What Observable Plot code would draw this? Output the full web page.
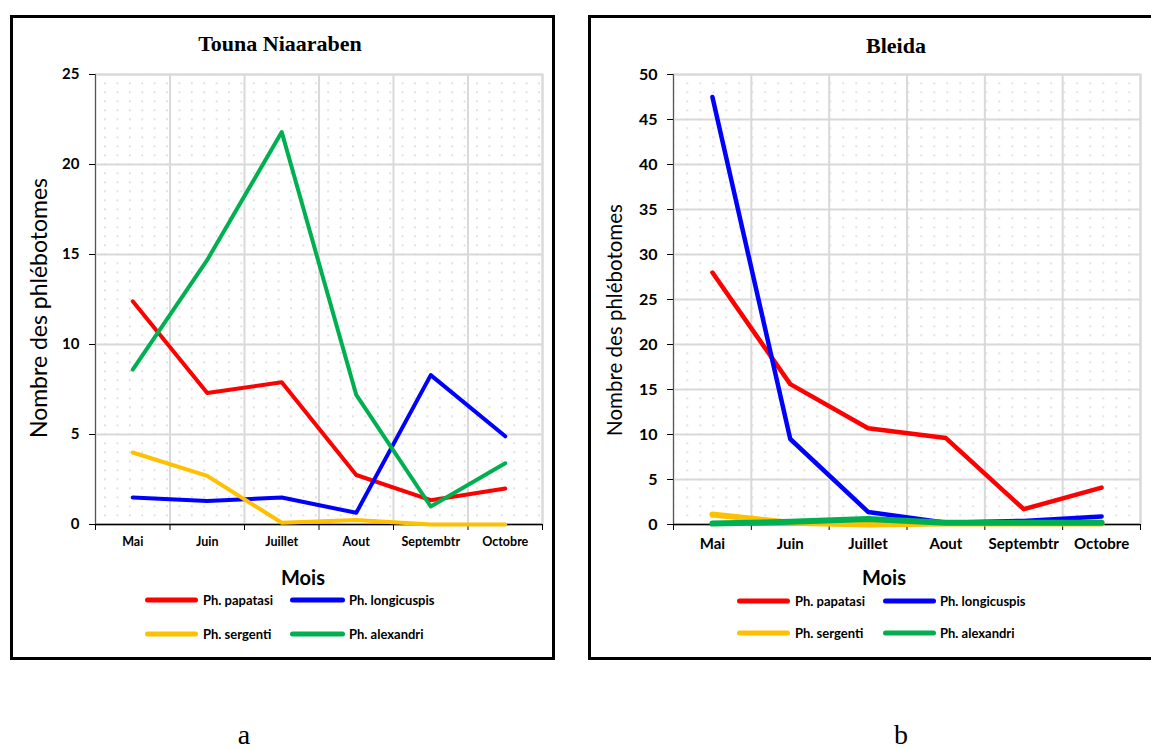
<!DOCTYPE html>
<html><head><meta charset="utf-8">
<script src="https://cdn.jsdelivr.net/npm/d3@7"></script>
<script src="https://cdn.jsdelivr.net/npm/@observablehq/plot@0.6"></script>
<style>
body{margin:0;width:1151px;height:749px;overflow:hidden;background:#fff;position:relative;font-family:Lato,"Open Sans",sans-serif;color:#000}
.abs{position:absolute;white-space:nowrap;line-height:1}
.panel{position:absolute;border:3px solid #000;box-sizing:border-box}
.title{font-family:"Liberation Serif","DejaVu Serif",serif;font-weight:bold;transform:translate(-50%,-50%)}
.ylab{transform:translate(-50%,-50%) rotate(-90deg)}
.mois{font-weight:bold;transform:translate(-50%,-50%)}
.sw{position:absolute;height:5px;border-radius:3px;transform:translateY(-50%)}
.lt{font-weight:bold;transform:translateY(-50%)}
.cap{font-family:"Liberation Serif",serif;font-size:28px;line-height:22px;height:22px;transform:translateX(-50%)}
svg{position:absolute}
</style></head><body>
<script>
const months = ["Mai","Juin","Juillet","Aout","Septembtr","Octobre"];
const seriesNames = ["Ph. papatasi","Ph. longicuspis","Ph. sergenti","Ph. alexandri"];
const seriesColors = ["#ff0000","#0000ff","#ffc000","#00b050"];

// Panel a : Touna Niaaraben
const tounaPapatasi    = [12.4, 7.3, 7.9, 2.75, 1.35, 2.0];
const tounaLongicuspis = [1.5, 1.3, 1.5, 0.65, 8.3, 4.9];
const tounaSergenti    = [4.0, 2.7, 0.1, 0.25, 0.0, 0.0];
const tounaAlexandri   = [8.6, 14.7, 21.8, 7.2, 1.0, 3.4];
const tounaTicks = [0, 5, 10, 15, 20, 25];

// Panel b : Bleida
const bleidaPapatasi    = [28.0, 15.6, 10.7, 9.6, 1.7, 4.1];
const bleidaLongicuspis = [47.5, 9.5, 1.4, 0.2, 0.4, 0.9];
const bleidaSergenti    = [1.1, 0.2, 0.0, 0.1, 0.1, 0.1];
const bleidaAlexandri   = [0.1, 0.3, 0.6, 0.2, 0.2, 0.2];
const bleidaTicks = [0, 5, 10, 15, 20, 25, 30, 35, 40, 45, 50];

function add(text, cls, style){
  const d = document.createElement("div");
  d.className = cls; d.textContent = text || "";
  Object.assign(d.style, style);
  document.body.appendChild(d);
  return d;
}

function panel(cfg){
  add("", "panel", {left: cfg.box[0]+"px", top: cfg.box[1]+"px", width: cfg.box[2]+"px", height: cfg.box[3]+"px"});
  add(cfg.title, "abs title", {left: cfg.titlePos[0]+"px", top: cfg.titlePos[1]+"px", fontSize: "22px"});
  const bounds = d3.range(months.length + 1).map(i => i - 0.5);
  const lines = cfg.values.map((vals, s) =>
    Plot.line(vals.map((v, i) => ({i, v})), {x: "i", y: "v", stroke: seriesColors[s], strokeWidth: cfg.widths[s], strokeLinejoin: "round", strokeLinecap: "round"}));
  const plot = Plot.plot({
    width: cfg.svg[2], height: cfg.svg[3],
    marginLeft: cfg.m[0], marginRight: cfg.m[1], marginTop: cfg.m[2], marginBottom: cfg.m[3],
    style: {fontFamily: "Lato, 'Open Sans', sans-serif", color: "#000", background: "transparent", overflow: "visible"},
    x: {domain: [-0.5, months.length - 0.5]},
    y: {domain: [0, cfg.ticks[cfg.ticks.length - 1]]},
    marks: [
      Plot.frame({fill: "url(#dots" + cfg.id + ")", stroke: "#d9d9d9", strokeWidth: 2}),
      Plot.gridY({ticks: cfg.ticks, stroke: "#d9d9d9", strokeOpacity: 1, strokeWidth: 2}),
      Plot.gridX({ticks: bounds, stroke: "#d9d9d9", strokeOpacity: 1, strokeWidth: 2}),
      Plot.ruleY([0], {stroke: "#000", strokeWidth: 1.5}),
      Plot.ruleX([-0.5], {stroke: "#555", strokeWidth: 1}),
      Plot.axisY({ticks: cfg.ticks, tickSize: 6, tickPadding: cfg.yPad, stroke: "#000", fontWeight: "bold", fontSize: cfg.yFont, label: null}),
      Plot.axisX({ticks: bounds, tickSize: 6, tickFormat: () => "", stroke: "#000", label: null}),
      Plot.axisX({ticks: d3.range(months.length), tickSize: 0, tickPadding: cfg.xPad, tickFormat: i => months[i], fontWeight: "bold", fontSize: cfg.xFont, label: null}),
      ...lines
    ]
  });
  const defs = d3.select(plot).insert("defs", ":first-child");
  const pat = defs.append("pattern").attr("id", "dots" + cfg.id).attr("patternUnits", "userSpaceOnUse")
    .attr("width", cfg.dot[0]).attr("height", cfg.dot[1]);
  pat.append("rect").attr("x", 4).attr("y", 4).attr("width", 1.4).attr("height", 1.4).attr("fill", "#c4c4c4");
  plot.style.left = cfg.svg[0] + "px";
  plot.style.top = cfg.svg[1] + "px";
  document.body.appendChild(plot);
  add("Nombre des phlébotomes", "abs ylab", {left: cfg.yl[0]+"px", top: cfg.yl[1]+"px", fontSize: cfg.yl[2]+"px"});
  add("Mois", "abs mois", {left: cfg.mois[0]+"px", top: cfg.mois[1]+"px", fontSize: "20px"});
  seriesNames.forEach((name, k) => {
    const col = k % 2, row = Math.floor(k / 2);
    const y = cfg.leg.rows[row];
    const sx = cfg.leg.sw[col];
    add("", "sw", {left: sx[0]+"px", width: (sx[1]-sx[0])+"px", top: y+"px", background: seriesColors[k]});
    add(name, "abs lt", {left: cfg.leg.tx[col]+"px", top: y+"px", fontSize: cfg.leg.font+"px"});
  });
  add(cfg.cap, "abs cap", {left: cfg.capPos[0]+"px", top: cfg.capPos[1]+"px"});
}

panel({
  id: "A", title: "Touna Niaaraben", box: [10, 15, 545, 645], titlePos: [280, 44],
  svg: [13, 60, 540, 520], m: [82, 11, 14, 56],
  values: [tounaPapatasi, tounaLongicuspis, tounaSergenti, tounaAlexandri], ticks: tounaTicks,
  widths: [4, 4, 4, 4],
  yPad: 10, yFont: 15, xPad: 13, xFont: 12.5, dot: [12.4, 9],
  yl: [38, 308, 23], mois: [303, 577],
  leg: {rows: [600, 634], sw: [[145, 198], [290, 345]], tx: [203, 349], font: 13},
  cap: "a", capPos: [244, 724]
});
panel({
  id: "B", title: "Bleida", box: [588, 15, 600, 645], titlePos: [896, 46],
  svg: [591, 60, 560, 520], m: [82, 11, 14, 56],
  values: [bleidaPapatasi, bleidaLongicuspis, bleidaSergenti, bleidaAlexandri], ticks: bleidaTicks,
  widths: [4.5, 4.5, 6, 6],
  yPad: 10, yFont: 16, xPad: 14, xFont: 15, dot: [13, 9],
  yl: [614, 320, 20.5], mois: [884, 577],
  leg: {rows: [601, 633], sw: [[737, 790], [883, 936]], tx: [795, 940], font: 13},
  cap: "b", capPos: [901, 724]
});
</script>
</body></html>
